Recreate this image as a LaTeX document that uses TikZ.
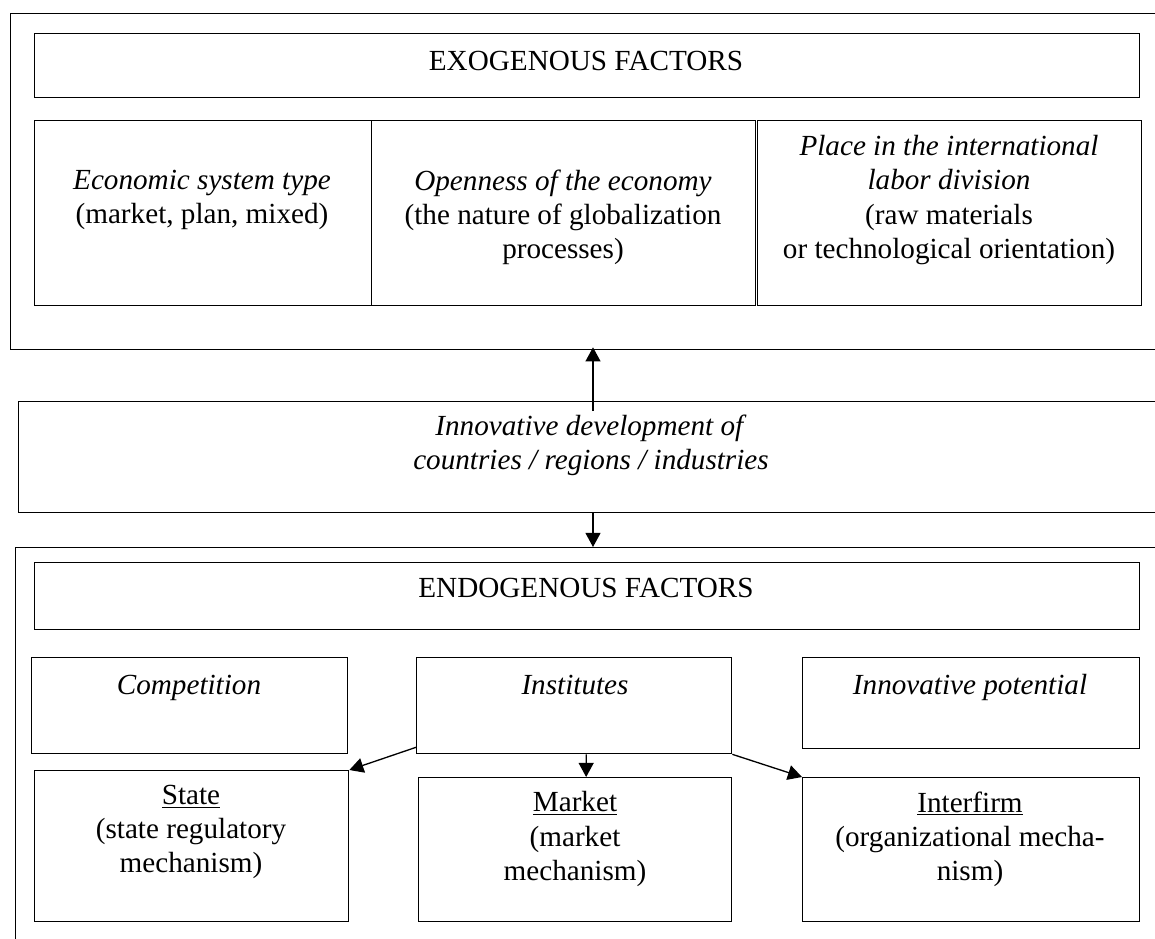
\documentclass[tikz,border=0pt]{standalone}
\usepackage{fontspec}
\setmainfont{Liberation Serif}
\usepackage{tikz}
\usetikzlibrary{positioning}
\usetikzlibrary{arrows.meta}
\colorlet{framec}{black}

\begin{document}
\begin{tikzpicture}[scale=1.0,
  box/.style={anchor=north west,draw=framec,line width=0.75pt,shape=rectangle,inner sep=0pt},
  lbl/.style={align=center,inner sep=0pt,font=\fontsize{16.6pt}{19.4pt}\selectfont},
  arr/.style={line width=0.75pt,-{Triangle[length=8pt,width=8.5pt]}}]
\useasboundingbox (0,0) rectangle (23.1cm,-18.76cm);
\clip (0,0) rectangle (23.1cm,-18.76cm);

% exogenous part
\node[box,minimum width=23.5cm,minimum height=6.72cm] (exoframe) at (0.2cm,-0.26cm) {};
\node[box,minimum width=22.1cm,minimum height=1.28cm] (exotitle) at (0.68cm,-0.66cm) {};
\node[box,minimum width=6.74cm,minimum height=3.7cm] (econ) at (0.68cm,-2.4cm) {};
\node[box,minimum width=7.68cm,minimum height=3.7cm] (open) at (7.42cm,-2.4cm) {};
\node[box,minimum width=7.68cm,minimum height=3.7cm] (place) at (15.14cm,-2.4cm) {};

\node[lbl] (exotitlelbl) at (11.72cm,-1.22cm) {EXOGENOUS FACTORS};
\node[lbl] (econlbl) at (4.04cm,-4.0cm) {\textit{Economic system type}\\(market, plan, mixed)};
\node[lbl] (openlbl) at (11.26cm,-4.34cm) {\textit{Openness of the economy}\\(the nature of globalization\\processes)};
\node[lbl] (placelbl) at (18.98cm,-4.0cm) {\textit{Place in the international}\\\textit{labor division}\\(raw materials\\or technological orientation)};

% middle
\node[box,minimum width=23.5cm,minimum height=2.22cm] (mid) at (0.36cm,-8.02cm) {};
\node[lbl] (midlbl) at (11.82cm,-8.9cm) {\textit{Innovative development of}\\\textit{countries / regions / industries}};

% endogenous part
\node[box,minimum width=23.5cm,minimum height=8.5cm] (endoframe) at (0.3cm,-10.94cm) {};
\node[box,minimum width=22.1cm,minimum height=1.34cm] (endotitle) at (0.68cm,-11.24cm) {};
\node[box,minimum width=6.32cm,minimum height=1.92cm] (comp) at (0.62cm,-13.14cm) {};
\node[box,minimum width=6.3cm,minimum height=1.92cm] (inst) at (8.32cm,-13.14cm) {};
\node[box,minimum width=6.74cm,minimum height=1.82cm] (innopot) at (16.04cm,-13.14cm) {};
\node[box,minimum width=6.28cm,minimum height=3.02cm] (state) at (0.68cm,-15.4cm) {};
\node[box,minimum width=6.26cm,minimum height=2.88cm] (market) at (8.36cm,-15.54cm) {};
\node[box,minimum width=6.74cm,minimum height=2.88cm] (interfirm) at (16.04cm,-15.54cm) {};

\node[lbl] (endotitlelbl) at (11.72cm,-11.76cm) {ENDOGENOUS FACTORS};
\node[lbl,anchor=base] (complbl) at (3.78cm,-13.88cm) {\textit{Competition}};
\node[lbl,anchor=base] (instlbl) at (11.5cm,-13.88cm) {\textit{Institutes}};
\node[lbl,anchor=base] (innopotlbl) at (19.4cm,-13.88cm) {\textit{Innovative potential}};
\node[lbl] (statelbl) at (3.82cm,-16.64cm) {\underline{State}\\(state regulatory\\mechanism)};
\node[lbl] (marketlbl) at (11.5cm,-16.78cm) {\underline{Market}\\(market\\mechanism)};
\node[lbl] (interfirmlbl) at (19.4cm,-16.78cm) {\underline{Interfirm}\\(organizational mecha-\\nism)};

% links
\coordinate (axis) at (11.86cm,0);
\draw[arr] ([yshift=-0.2cm]mid.north -| axis) -- ([yshift=0.06cm]exoframe.south -| axis);
\draw[arr] (mid.south -| axis) -- (endoframe.north -| axis);
\draw[arr] ([yshift=0.14cm]inst.south west) -- (state.north east);
\draw[arr] ([xshift=0.24cm]inst.south) -- ([xshift=0.22cm]market.north);
\draw[arr] (inst.south east) -- (interfirm.north west);

\end{tikzpicture}
\end{document}
